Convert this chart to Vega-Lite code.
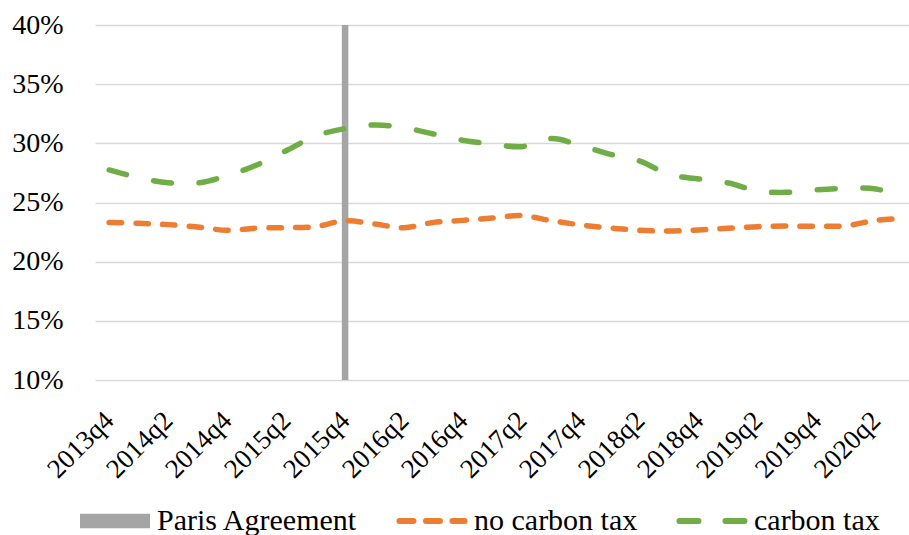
{
  "$schema": "https://vega.github.io/schema/vega-lite/v6.json",
  "width": 814,
  "height": 355,
  "autosize": {"type": "none"},
  "padding": {"left": 95, "top": 25, "right": 0, "bottom": 155},
  "background": "white",
  "config": {"view": {"stroke": null}, "font": "'Liberation Serif', 'DejaVu Serif', serif"},
  "data": {
    "values": [
      {"quarter": "2015q4", "series": "Paris Agreement", "value": 0.40},
      {"quarter": "2013q4", "series": "no carbon tax", "value": 0.2332},
      {"quarter": "2014q1", "series": "no carbon tax", "value": 0.2324},
      {"quarter": "2014q2", "series": "no carbon tax", "value": 0.2313},
      {"quarter": "2014q3", "series": "no carbon tax", "value": 0.2293},
      {"quarter": "2014q4", "series": "no carbon tax", "value": 0.2265},
      {"quarter": "2015q1", "series": "no carbon tax", "value": 0.2284},
      {"quarter": "2015q2", "series": "no carbon tax", "value": 0.2287},
      {"quarter": "2015q3", "series": "no carbon tax", "value": 0.2296},
      {"quarter": "2015q4", "series": "no carbon tax", "value": 0.2346},
      {"quarter": "2016q1", "series": "no carbon tax", "value": 0.2318},
      {"quarter": "2016q2", "series": "no carbon tax", "value": 0.2287},
      {"quarter": "2016q3", "series": "no carbon tax", "value": 0.2332},
      {"quarter": "2016q4", "series": "no carbon tax", "value": 0.2349},
      {"quarter": "2017q1", "series": "no carbon tax", "value": 0.2369},
      {"quarter": "2017q2", "series": "no carbon tax", "value": 0.2389},
      {"quarter": "2017q3", "series": "no carbon tax", "value": 0.2346},
      {"quarter": "2017q4", "series": "no carbon tax", "value": 0.2310},
      {"quarter": "2018q1", "series": "no carbon tax", "value": 0.2284},
      {"quarter": "2018q2", "series": "no carbon tax", "value": 0.2265},
      {"quarter": "2018q3", "series": "no carbon tax", "value": 0.2259},
      {"quarter": "2018q4", "series": "no carbon tax", "value": 0.2268},
      {"quarter": "2019q1", "series": "no carbon tax", "value": 0.2282},
      {"quarter": "2019q2", "series": "no carbon tax", "value": 0.2296},
      {"quarter": "2019q3", "series": "no carbon tax", "value": 0.2301},
      {"quarter": "2019q4", "series": "no carbon tax", "value": 0.2299},
      {"quarter": "2020q1", "series": "no carbon tax", "value": 0.2304},
      {"quarter": "2020q2", "series": "no carbon tax", "value": 0.2349},
      {"quarter": "2020q3", "series": "no carbon tax", "value": 0.2366},
      {"quarter": "2013q4", "series": "carbon tax", "value": 0.2775},
      {"quarter": "2014q1", "series": "carbon tax", "value": 0.2710},
      {"quarter": "2014q2", "series": "carbon tax", "value": 0.2667},
      {"quarter": "2014q3", "series": "carbon tax", "value": 0.2665},
      {"quarter": "2014q4", "series": "carbon tax", "value": 0.2727},
      {"quarter": "2015q1", "series": "carbon tax", "value": 0.2817},
      {"quarter": "2015q2", "series": "carbon tax", "value": 0.2938},
      {"quarter": "2015q3", "series": "carbon tax", "value": 0.3062},
      {"quarter": "2015q4", "series": "carbon tax", "value": 0.3124},
      {"quarter": "2016q1", "series": "carbon tax", "value": 0.3155},
      {"quarter": "2016q2", "series": "carbon tax", "value": 0.3132},
      {"quarter": "2016q3", "series": "carbon tax", "value": 0.3079},
      {"quarter": "2016q4", "series": "carbon tax", "value": 0.3025},
      {"quarter": "2017q1", "series": "carbon tax", "value": 0.2994},
      {"quarter": "2017q2", "series": "carbon tax", "value": 0.2972},
      {"quarter": "2017q3", "series": "carbon tax", "value": 0.3040},
      {"quarter": "2017q4", "series": "carbon tax", "value": 0.2980},
      {"quarter": "2018q1", "series": "carbon tax", "value": 0.2907},
      {"quarter": "2018q2", "series": "carbon tax", "value": 0.2850},
      {"quarter": "2018q3", "series": "carbon tax", "value": 0.2735},
      {"quarter": "2018q4", "series": "carbon tax", "value": 0.2699},
      {"quarter": "2019q1", "series": "carbon tax", "value": 0.2665},
      {"quarter": "2019q2", "series": "carbon tax", "value": 0.2597},
      {"quarter": "2019q3", "series": "carbon tax", "value": 0.2586},
      {"quarter": "2019q4", "series": "carbon tax", "value": 0.2608},
      {"quarter": "2020q1", "series": "carbon tax", "value": 0.2620},
      {"quarter": "2020q2", "series": "carbon tax", "value": 0.2614},
      {"quarter": "2020q3", "series": "carbon tax", "value": 0.2540}
    ]
  },
  "encoding": {
    "x": {
      "field": "quarter",
      "type": "ordinal",
      "scale": {
        "type": "point",
        "domain": ["2013q4","2014q1","2014q2","2014q3","2014q4","2015q1","2015q2","2015q3","2015q4","2016q1","2016q2","2016q3","2016q4","2017q1","2017q2","2017q3","2017q4","2018q1","2018q2","2018q3","2018q4","2019q1","2019q2","2019q3","2019q4","2020q1","2020q2","2020q3"],
        "padding": 0.3,
        "align": 0.8
      },
      "axis": {
        "values": ["2013q4","2014q2","2014q4","2015q2","2015q4","2016q2","2016q4","2017q2","2017q4","2018q2","2018q4","2019q2","2019q4","2020q2"],
        "title": null,
        "ticks": false,
        "domain": false,
        "grid": false,
        "labelAngle": -45,
        "labelAlign": "right",
        "labelBaseline": "middle",
        "labelFont": "'Liberation Serif', 'DejaVu Serif', serif",
        "labelFontSize": 27,
        "labelColor": "#000000",
        "labelPadding": 36,
        "labelOffset": 0,
        "labelOverlap": false,
        "labelLimit": 300
      }
    },
    "y": {
      "field": "value",
      "type": "quantitative",
      "scale": {"domain": [0.10, 0.40], "nice": false, "zero": false},
      "axis": {
        "values": [0.10, 0.15, 0.20, 0.25, 0.30, 0.35, 0.40],
        "format": ".0%",
        "title": null,
        "ticks": false,
        "domain": false,
        "grid": true,
        "gridColor": "#D9D9D9",
        "gridWidth": 1.5,
        "labelFont": "'Liberation Serif', 'DejaVu Serif', serif",
        "labelFontSize": 28,
        "labelColor": "#000000",
        "labelPadding": 32
      }
    },
    "color": {
      "field": "series",
      "type": "nominal",
      "scale": {
        "domain": ["Paris Agreement", "no carbon tax", "carbon tax"],
        "range": ["#A5A5A5", "#ED7D31", "#70AD47"]
      },
      "legend": {
        "title": null,
        "orient": "none",
        "direction": "horizontal",
        "legendX": 5,
        "legendY": 481,
        "padding": 0,
        "symbolSize": 4900,
        "symbolStrokeWidth": 6,
        "labelFont": "'Liberation Serif', 'DejaVu Serif', serif",
        "labelFontSize": 30,
        "labelColor": "#000000",
        "labelLimit": 400,
        "labelOffset": 27,
        "columnPadding": 29,
        "encode": {
          "symbols": {
            "update": {
              "shape": {"signal": "datum.value === 'Paris Agreement' ? 'M-1,-0.21H1V0.21H-1Z' : 'M-0.93,0H0.93'"},
              "fill": {"signal": "datum.value === 'Paris Agreement' ? '#A5A5A5' : 'transparent'"},
              "stroke": {"signal": "datum.value === 'no carbon tax' ? '#ED7D31' : datum.value === 'carbon tax' ? '#70AD47' : 'transparent'"},
              "strokeWidth": {"signal": "datum.value === 'Paris Agreement' ? 0 : 6"},
              "strokeDash": {"signal": "datum.value === 'no carbon tax' ? [14, 12.5] : [19, 27]"},
              "strokeCap": {"value": "round"},
              "opacity": {"value": 1}
            }
          }
        }
      }
    }
  },
  "layer": [
    {
      "transform": [{"filter": "datum.series === 'Paris Agreement'"}],
      "mark": {"type": "rule", "strokeWidth": 6.5},
      "encoding": {"y2": {"datum": 0.10}}
    },
    {
      "transform": [{"filter": "datum.series !== 'Paris Agreement'"}],
      "mark": {"type": "line", "strokeWidth": 5.5, "strokeCap": "round", "interpolate": "catmull-rom"},
      "encoding": {
        "strokeDash": {
          "field": "series",
          "type": "nominal",
          "scale": {"domain": ["no carbon tax", "carbon tax"], "range": [[12.5, 14.2], [18, 27.7]]},
          "legend": null
        }
      }
    }
  ]
}
